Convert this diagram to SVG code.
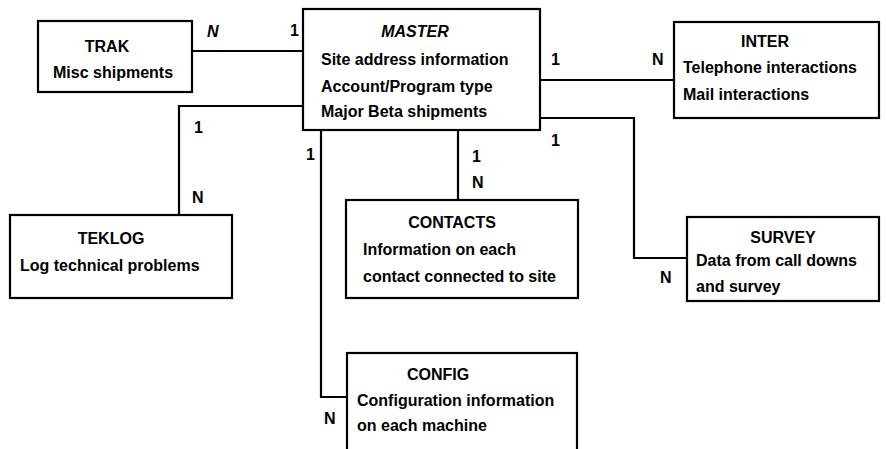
<svg xmlns="http://www.w3.org/2000/svg" width="886" height="449" viewBox="0 0 886 449">
<style>
text{font-family:"Liberation Sans",Arial,sans-serif;font-weight:bold;font-size:16px;fill:#000}
.t{text-anchor:middle}
.box{fill:#fff;stroke:#000;stroke-width:2.2}
.c{fill:none;stroke:#000;stroke-width:2.2}
.it{font-style:italic}
</style>
<rect width="886" height="449" fill="#fff"/>
<g id="connectors">
<path class="c" d="M192 51H303"/>
<path class="c" d="M303 106H179V215"/>
<path class="c" d="M540 80H674"/>
<path class="c" d="M540 118H634V258H687"/>
<path class="c" d="M458 130V200"/>
<path class="c" d="M321 130V397H347"/>
<text x="207" y="37" class="it">N</text>
<text x="290" y="36">1</text>
<text x="194" y="133">1</text>
<text x="192" y="203">N</text>
<text x="551" y="65">1</text>
<text x="652" y="65">N</text>
<text x="551" y="146">1</text>
<text x="660" y="283">N</text>
<text x="472" y="162">1</text>
<text x="472" y="188">N</text>
<text x="306" y="160">1</text>
<text x="324" y="424">N</text>
</g>
<g id="TRAK">
<rect class="box" x="38" y="21" width="154" height="71"/>
<text x="107" y="52" class="t">TRAK</text>
<text x="53" y="78">Misc shipments</text>
</g>
<g id="MASTER">
<rect class="box" x="303" y="9" width="237" height="121"/>
<text x="415" y="37" class="t it">MASTER</text>
<text x="321" y="65">Site address information</text>
<text x="321" y="92">Account/Program type</text>
<text x="321" y="117">Major Beta shipments</text>
</g>
<g id="INTER">
<rect class="box" x="674" y="22" width="205" height="96"/>
<text x="765" y="47" class="t">INTER</text>
<text x="683" y="73">Telephone interactions</text>
<text x="683" y="100">Mail interactions</text>
</g>
<g id="TEKLOG">
<rect class="box" x="10" y="215" width="222" height="83"/>
<text x="111" y="244" class="t">TEKLOG</text>
<text x="20" y="271">Log technical problems</text>
</g>
<g id="CONTACTS">
<rect class="box" x="346" y="200" width="232" height="98"/>
<text x="452" y="228" class="t">CONTACTS</text>
<text x="363" y="255">Information on each</text>
<text x="363" y="282">contact connected to site</text>
</g>
<g id="SURVEY">
<rect class="box" x="687" y="217" width="192" height="84"/>
<text x="783" y="243" class="t">SURVEY</text>
<text x="696" y="266">Data from call downs</text>
<text x="696" y="292">and survey</text>
</g>
<g id="CONFIG">
<rect class="box" x="347" y="353" width="230" height="110"/>
<text x="438" y="380" class="t">CONFIG</text>
<text x="357" y="406">Configuration information</text>
<text x="357" y="431">on each machine</text>
</g>
</svg>
